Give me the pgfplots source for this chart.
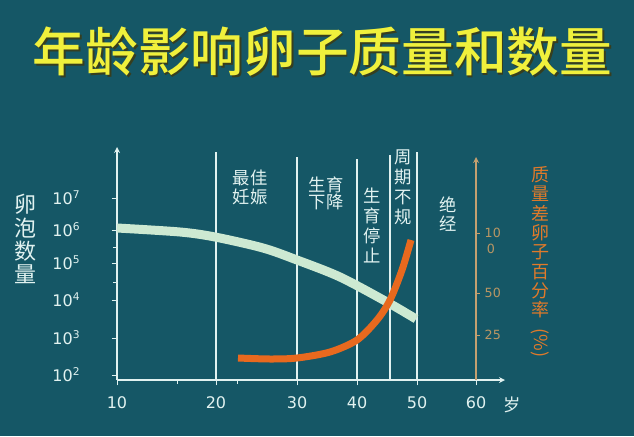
\documentclass[border=0pt]{standalone}
\usepackage{pgfplots}
\pgfplotsset{compat=1.18}
\usepackage{fontspec}
\setmainfont{DejaVu Sans}
\newfontfamily\cjk{Noto Sans CJK SC}
\newfontfamily\cjkm{Noto Sans CJK SC}[UprightFont=* Medium]
\definecolor{bg}{RGB}{21,87,102}
\definecolor{ink}{RGB}{225,242,240}
\definecolor{mint}{RGB}{205,233,210}
\definecolor{orng}{RGB}{232,105,30}
\definecolor{tanc}{RGB}{196,160,112}
\definecolor{tanl}{RGB}{184,150,100}
\definecolor{orlab}{RGB}{224,122,42}
\definecolor{ttl}{RGB}{240,240,60}
\definecolor{shd}{RGB}{55,62,30}

\begin{document}
\begin{tikzpicture}[x=0.75pt,y=0.75pt]
\path[use as bounding box,fill=bg] (0,0) rectangle (634,436);

% title
\node[text=shd,font=\cjkm\fontsize{39.5}{40}\selectfont] at (324,382.5) {年龄影响卵子质量和数量};
\node[text=ttl,font=\cjkm\fontsize{39.5}{40}\selectfont] at (322.5,384) {年龄影响卵子质量和数量};

% left axis title
\node[text=ink,font=\cjk\fontsize{16.5}{17.3}\selectfont,align=center] at (25,197) {卵\\泡\\数\\量};

% main axis (x and y in picture pixels from the origin)
\begin{axis}[
    at={(117,56)}, anchor=south west,
    x=0.75pt, y=0.75pt,
    xmin=0, xmax=388, ymin=0, ymax=233,
    axis x line=bottom, axis y line=left,
    axis line style={ink, line width=1pt, -stealth},
    xtick={0,99,180,240,300,359},
    xticklabels={10,20,30,40,50,60},
    minor xtick={60,120},
    ytick={5,42,80,117,150,182},
    yticklabels={10\textsuperscript{2},10\textsuperscript{3},10\textsuperscript{4},10\textsuperscript{5},10\textsuperscript{6},10\textsuperscript{7}},
    minor ytick={98,133},
    tick align=outside,
    major tick length=4pt, minor tick length=3pt,
    tick style={ink, line width=0.6pt},
    xticklabel style={text=ink, font=\fontsize{12}{14}\selectfont, yshift=-5pt},
    yticklabel style={text=ink, font=\fontsize{12}{14}\selectfont, xshift=-20pt},
    clip=false,
]
\draw[ink, line width=1pt] (axis cs:99,0) -- (axis cs:99,228);
\draw[ink, line width=1pt] (axis cs:180,0) -- (axis cs:180,223);
\draw[ink, line width=1pt] (axis cs:240,0) -- (axis cs:240,221);
\draw[ink, line width=1pt] (axis cs:273,0) -- (axis cs:273,225);
\draw[ink, line width=1pt] (axis cs:300,0) -- (axis cs:300,228);

% follicle count
\addplot[mint, line width=6.75pt, smooth, line cap=butt] coordinates {
(0,152) (63,148) (98,143) (146,132) (180,120) (223,103) (270,78) (299,61)
};
% poor-quality eggs
\addplot[orng, line width=5.25pt, smooth, line cap=butt] coordinates {
(121,22) (153,21) (180,22) (213,28) (240,40) (260,60) (273,80) (285,110) (294,140)
};
\end{axis}

% right axis
\begin{axis}[
    at={(117,56)}, anchor=south west,
    x=0.75pt, y=0.75pt,
    xmin=0, xmax=359, ymin=0, ymax=223,
    axis x line=none, axis y line=right,
    axis line style={tanc, line width=1pt},
    xtick=\empty,
    ytick={45,87,147},
    yticklabels={25,50,10},
    tick align=outside, major tick length=3pt,
    tick style={tanc, line width=0.6pt},
    yticklabel style={text=tanl, font=\fontsize{9.5}{11}\selectfont},
]
\end{axis}
\node[text=tanl,font=\fontsize{9.5}{11}\selectfont] at (491,187) {0};

% right axis title
\node[text=orlab,font=\cjk\fontsize{13.5}{14.5}\selectfont,align=center] at (540,193.5) {质\\量\\差\\卵\\子\\百\\分\\率};
\node[text=orlab,font=\cjk\fontsize{13.5}{14.5}\selectfont,rotate=-90] at (540,93) {(\%)};

% phase labels
\node[text=ink,font=\cjk\fontsize{13}{14.25}\selectfont,align=center] at (250,248.5) {最佳\\妊娠};
\node[text=ink,font=\cjk\fontsize{13}{12.75}\selectfont,align=center] at (326,242.5) {生育\\下降};
\node[text=ink,font=\cjk\fontsize{13}{15}\selectfont,align=center] at (372,211) {生\\育\\停\\止};
\node[text=ink,font=\cjk\fontsize{13}{15}\selectfont,align=center] at (403,249) {周\\期\\不\\规};
\node[text=ink,font=\cjk\fontsize{13}{14}\selectfont,align=center] at (448,222) {绝\\经};
\node[text=ink,font=\cjk\fontsize{13}{14}\selectfont] at (512,31) {岁};
\end{tikzpicture}
\end{document}
